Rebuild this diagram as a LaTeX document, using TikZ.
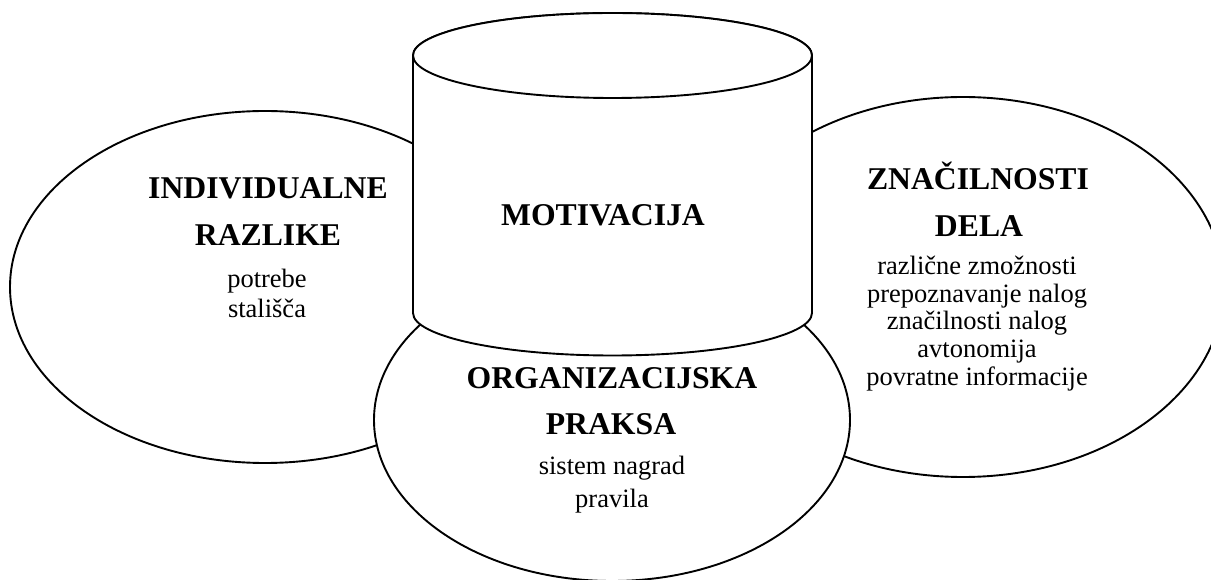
\documentclass[tikz,border=0pt]{standalone}
\usepackage{fontspec}
\setmainfont{Liberation Serif}
\begin{document}
\begin{tikzpicture}[x=1pt,y=1pt,
  outline/.style={draw=black, fill=white, line width=1.9pt},
  heading/.style={font=\bfseries\fontsize{31.7}{38}\selectfont, anchor=base, inner sep=0pt},
  item/.style={font=\fontsize{26.5}{30}\selectfont, anchor=base, inner sep=0pt}]
\useasboundingbox (0,0) rectangle (1211,579);
\clip (0,0) rectangle (1211,579);

% three ellipses: individual, job, organisation
\path[outline] (265,292) ellipse [x radius=255, y radius=176];
\path[outline] (963,292) ellipse [x radius=261, y radius=190];
\path[outline] (612,159) ellipse [x radius=238, y radius=161];

% cylinder in the middle
\path[outline] (413,523.5) -- (413,266)
  arc [start angle=180, end angle=360, x radius=199.5, y radius=42.5]
  -- (812,523.5)
  arc [start angle=0, end angle=180, x radius=199.5, y radius=42.5] -- cycle;
\path[outline] (612.5,523.5) ellipse [x radius=199.5, y radius=42.5];

% labels
\node[heading] (ind1) at (268,380) {INDIVIDUALNE};
\node[heading] (ind2) at (268,333) {RAZLIKE};
\node[item] (ind3) at (267,291) {potrebe};
\node[item] (ind4) at (267,261) {stališča};

\node[heading] (zn1) at (978,389) {ZNAČILNOSTI};
\node[heading] (zn2) at (979,342) {DELA};
\node[item] (zn3) at (977,304) {različne zmožnosti};
\node[item] (zn4) at (977,276) {prepoznavanje nalog};
\node[item] (zn5) at (977,249) {značilnosti nalog};
\node[item] (zn6) at (977,221) {avtonomija};
\node[item] (zn7) at (977,193) {povratne informacije};

\node[heading] (mot) at (603,353) {MOTIVACIJA};

\node[heading] (org1) at (612,190) {ORGANIZACIJSKA};
\node[heading] (org2) at (611,144) {PRAKSA};
\node[item] (org3) at (612,105) {sistem nagrad};
\node[item] (org4) at (612,72) {pravila};
\end{tikzpicture}
\end{document}
